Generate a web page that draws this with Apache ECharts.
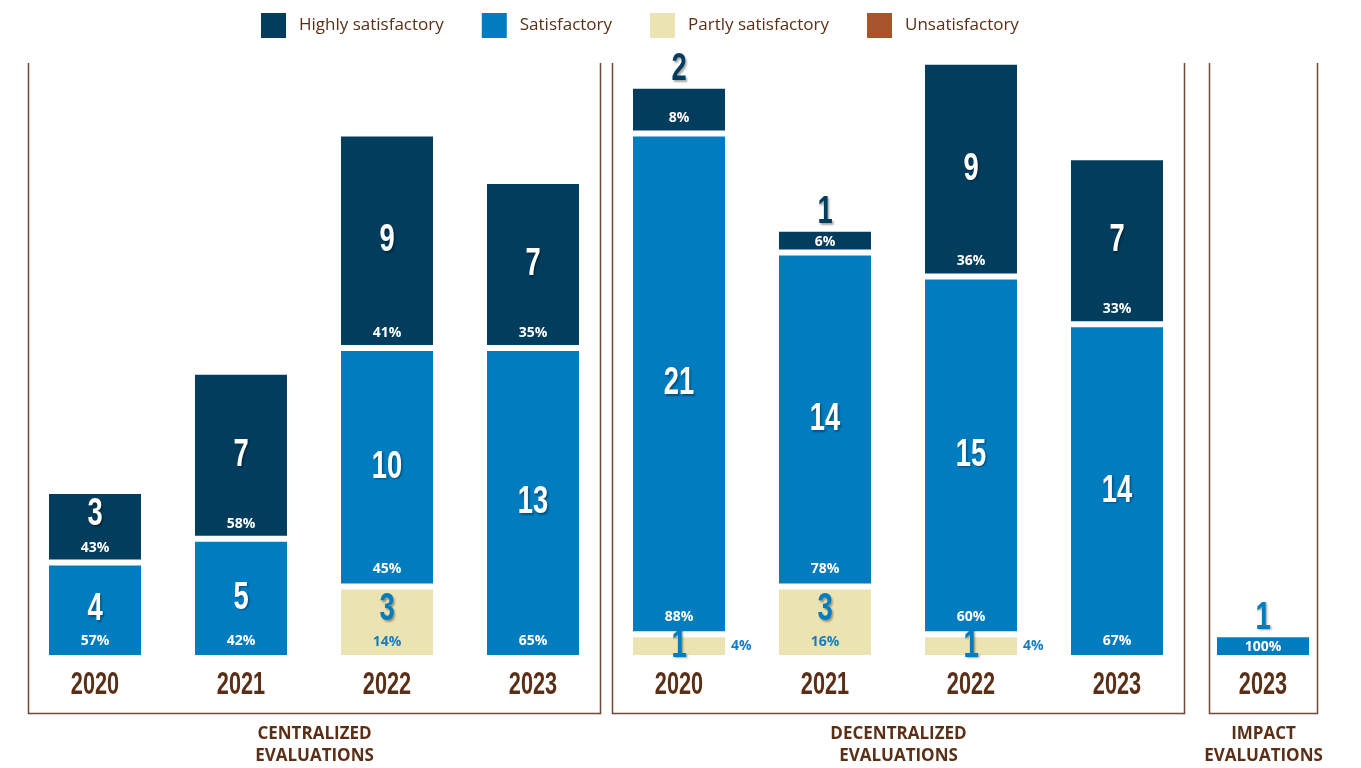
<!DOCTYPE html>
<html>
<head>
<meta charset="utf-8">
<script src="https://cdn.jsdelivr.net/npm/echarts@6/dist/echarts.min.js"></script>
<style>
  html, body { margin: 0; padding: 0; background: #fff; }
  #main { width: 1361px; height: 768px; }
</style>
</head>
<body>
<div id="main"></div>
<script>
// one category per bar, three evaluation groups side by side
var years = ['2020', '2021', '2022', '2023', '2020', '2021', '2022', '2023', '2023'];
var partly = [0, 0, 3, 0, 1, 3, 1, 0, 0];
var satisfactory = [4, 5, 10, 13, 21, 14, 15, 14, 1];
var highly = [3, 7, 9, 7, 2, 1, 9, 7, 0];
var unsatisfactory = [0, 0, 0, 0, 0, 0, 0, 0, 0];
var partlyPct = ['', '', '14%', '', '4%', '16%', '4%', '', ''];
var satPct = ['57%', '42%', '45%', '65%', '88%', '78%', '60%', '67%', '100%'];
var highlyPct = ['43%', '58%', '41%', '35%', '8%', '6%', '36%', '33%', ''];
var groups = [
  { name: 'CENTRALIZED\nEVALUATIONS', from: 0, to: 3 },
  { name: 'DECENTRALIZED\nEVALUATIONS', from: 4, to: 7 },
  { name: 'IMPACT\nEVALUATIONS', from: 8, to: 8 }
];

var NAVY = '#023d5e';
var BLUE = '#007cbf';
var SAND = '#ece3b3';
var RUST = '#a8542a';
var BROWN = '#5b2e16';
var LINE = '#6e4a36';
var HEAVY = '"Liberation Sans", "Roboto", sans-serif';
var SANS = '"Open Sans", "Noto Sans", sans-serif';

var chart = echarts.init(document.getElementById('main'));

function barSeries(name, values, pcts, color, pctColor, dist) {
  return {
    name: name,
    type: 'bar',
    stack: 'total',
    barWidth: 98,
    itemStyle: { color: color, borderColor: '#fff', borderWidth: 3 },
    label: {
      show: true,
      position: 'insideBottom',
      distance: dist,
      color: pctColor,
      fontFamily: SANS,
      fontWeight: 'bold',
      fontSize: 14,
      formatter: function (p) { return pcts[p.dataIndex] }
    },
    data: values.map(function (v, i) {
      var item = { value: v === 0 ? null : v }
      if (name === 'Partly satisfactory' && v === 1) {
        // tiny partly segment: percentage sits to the right of the bar
        item.label = { position: 'right', distance: 3 }
      } else if (v === 1) {
        item.label = { distance: 4 }
      }
      return item
    })
  }
}

// condensed-looking display text (squeezed horizontally)
function bigText(x, y, text, color, size, sx, shadow) {
  var style = {
    text: text,
    fill: color,
    font: 'bold ' + size + 'px ' + HEAVY,
    align: 'center',
    verticalAlign: 'middle'
  }
  if (shadow) {
    style.textShadowColor = 'rgba(0,0,0,0.35)'
    style.textShadowBlur = 2
    style.textShadowOffsetX = 1.5
    style.textShadowOffsetY = 1.5
  }
  return { type: 'text', x: x, y: y, scaleX: sx, style: style }
}

// count labels, one per non-empty segment
var numItems = []
years.forEach(function (y, i) {
  var base = 0
  ;[[partly, 'p'], [satisfactory, 's'], [highly, 'h']].forEach(function (pair) {
    var v = pair[0][i]
    if (v > 0) {
      numItems.push({ value: [i, base + v, base, v], kind: pair[1] })
    }
    base += v
  })
})

var option = {
  animation: false,
  backgroundColor: '#fff',
  legend: {
    left: 259,
    top: 11,
    padding: 0,
    itemWidth: 27,
    itemHeight: 27,
    itemGap: 36,
    icon: 'rect',
    data: ['Highly satisfactory', 'Satisfactory', 'Partly satisfactory', 'Unsatisfactory'],
    textStyle: { color: BROWN, fontFamily: SANS, fontSize: 17, padding: [0, 0, 0, 7] }
  },
  grid: { left: 22, right: 25, top: 38, bottom: 110 },
  xAxis: {
    type: 'category',
    data: years,
    axisLine: { show: false },
    axisTick: { show: false },
    axisLabel: { show: false }
  },
  yAxis: { type: 'value', min: 0, max: 26, show: false, splitLine: { show: false } },
  series: [
    barSeries('Partly satisfactory', partly, partlyPct, SAND, '#1a7cc0', 9),
    barSeries('Satisfactory', satisfactory, satPct, BLUE, '#fff', 10),
    barSeries('Highly satisfactory', highly, highlyPct, NAVY, '#fff', 8),
    barSeries('Unsatisfactory', unsatisfactory, ['', '', '', '', '', '', '', '', ''], RUST, '#fff', 8),
    {
      // segment counts
      type: 'custom',
      z: 10,
      silent: true,
      encode: { x: 0, y: 1 },
      data: numItems.map(function (d) { return d.value }),
      renderItem: function (params, api) {
        var it = numItems[params.dataIndex]
        var i = api.value(0)
        var v = api.value(3)
        var top = api.coord([i, api.value(1)])
        var bot = api.coord([i, api.value(2)])
        var visTop = top[1] + 3
        var visBot = bot[1] - 3
        var y, color
        if (it.kind !== 'p' && v <= 2) {
          y = visTop - 19
          color = it.kind === 'h' ? NAVY : BLUE
        } else if (it.kind === 'p' && v <= 1) {
          y = (visTop + visBot) / 2
          color = BLUE
        } else {
          y = Math.min((visTop + visBot) / 2, visBot - 45)
          color = it.kind === 'p' ? BLUE : '#fff'
        }
        return bigText(top[0], y, String(v), color, 38, 0.72, true)
      }
    },
    {
      // year labels under each bar
      type: 'custom',
      silent: true,
      encode: { x: 0, y: 1 },
      data: years.map(function (y, i) { return [i, 0] }),
      renderItem: function (params, api) {
        var p = api.coord([api.value(0), 0])
        return bigText(p[0], p[1] + 27, years[params.dataIndex], BROWN, 31, 0.7, false)
      }
    }
  ]
}

chart.setOption(option)

// frames and group titles, placed from the category axis
var bw = chart.convertToPixel({ xAxisIndex: 0 }, 1) - chart.convertToPixel({ xAxisIndex: 0 }, 0)
var graphics = []
groups.forEach(function (g) {
  var pad = g.from === g.to ? 0.37 * bw : 0.46 * bw
  var l = Math.round(chart.convertToPixel({ xAxisIndex: 0 }, g.from) - pad) + 0.5
  var r = Math.round(chart.convertToPixel({ xAxisIndex: 0 }, g.to) + pad) + 0.5
  graphics.push({
    type: 'polyline',
    silent: true,
    shape: { points: [[l, 63], [l, 713.5], [r, 713.5], [r, 63]] },
    style: { stroke: LINE, lineWidth: 1.5, fill: null }
  })
  graphics.push({
    type: 'text',
    silent: true,
    x: (l + r) / 2,
    y: 723,
    style: {
      text: g.name,
      fill: BROWN,
      font: 'bold 17px ' + SANS,
      lineHeight: 22,
      align: 'center',
      verticalAlign: 'top'
    }
  })
})
chart.setOption({ graphic: graphics })
</script>
</body>
</html>
